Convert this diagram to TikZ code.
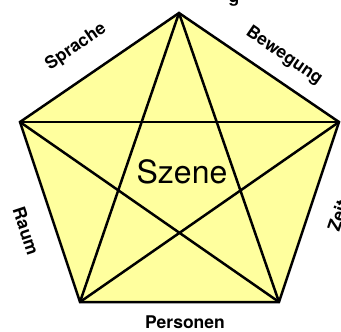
\documentclass[tikz,border=0pt]{standalone}
\usepackage{fontspec}
\setmainfont{TeX Gyre Heros}
\definecolor{penta}{RGB}{255,255,158}
\begin{document}
\begin{tikzpicture}[x=1pt,y=-1pt,
  edge/.style={line width=2.5pt,line join=miter},
  lbl/.style={font=\bfseries\fontsize{17.5}{20}\selectfont,inner sep=0pt},
  ctr/.style={font=\fontsize{32}{35}\selectfont,inner sep=0pt}]
\useasboundingbox (0,0) rectangle (341,332);
\coordinate (T) at (179,13);
\coordinate (L) at (20,122);
\coordinate (R) at (339,122);
\coordinate (BL) at (80,302);
\coordinate (BR) at (279,302);
\fill[penta] (T) -- (R) -- (BR) -- (BL) -- (L) -- cycle;
\draw[edge] (T) -- (BL);
\draw[edge] (T) -- (BR);
\draw[edge] (L) -- (R);
\draw[edge] (L) -- (BR);
\draw[edge] (R) -- (BL);
\draw[edge] (T) -- (R) -- (BR) -- (BL) -- (L) -- cycle;
\node[ctr] (sz) at (182,172) {Szene};
\node[lbl,rotate=34.4] (sp) at (76,47) {Sprache};
\node[lbl,rotate=-34.4] (bw) at (284,56) {Bewegung};
\node[lbl,rotate=-71.6] (ra) at (26,231) {Raum};
\node[lbl,rotate=71.6] (ze) at (338,216) {Zeit};
\node[lbl] (pe) at (185,322) {Personen};
\node[lbl,anchor=base] (hg) at (234,2) {g};
\end{tikzpicture}
\end{document}
